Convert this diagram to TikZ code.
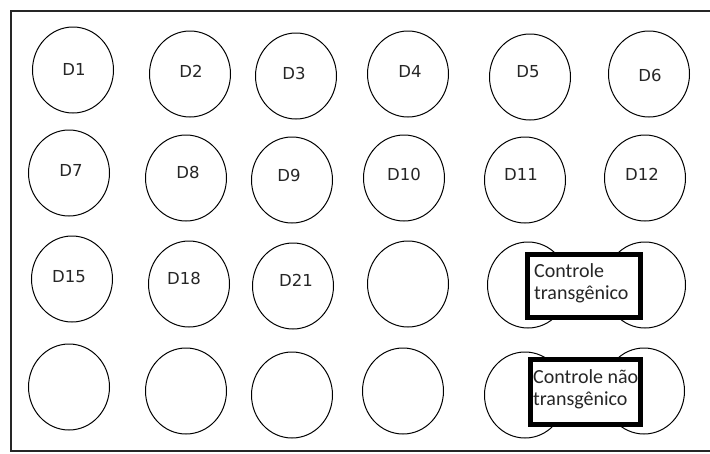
\documentclass[tikz,border=0pt]{standalone}
\usepackage{fontspec}
\setmainfont{DejaVu Sans}
\newfontfamily\boxfont{Carlito}
\usetikzlibrary{shapes.geometric}
\begin{document}
\begin{tikzpicture}[x=1pt,y=-1pt,
  well/.style={ellipse, draw=black, line width=1pt, minimum width=81pt, minimum height=86pt, inner sep=0pt},
  lab/.style={font=\fontsize{16.5}{18}\selectfont, text=black!85, inner sep=0pt},
  ctrlbox/.style={draw=black, line width=5pt, fill=white, inner sep=0pt},
  ctrltext/.style={font=\boxfont\fontsize{20}{22}\selectfont, text=black!85, align=left, inner sep=0pt, anchor=north west}]
\useasboundingbox (0,0) rectangle (710,453);
% frame
\draw[line width=2pt, black!85] (710,11) -- (11,11) -- (11,451) -- (710,451);
% row 1
\node[well] (w1) at (73,70) {};
\node[well] (w2) at (190,74) {};
\node[well] (w3) at (296,76) {};
\node[well] (w4) at (408,74) {};
\node[well] (w5) at (530,77) {};
\node[well] (w6) at (649,74) {};
% row 2
\node[well] (w7) at (69,173) {};
\node[well] (w8) at (186,178) {};
\node[well] (w9) at (292,180) {};
\node[well] (w10) at (404,178) {};
\node[well] (w11) at (525,180) {};
\node[well] (w12) at (645,178) {};
% row 3
\node[well] (w13) at (72,279) {};
\node[well] (w14) at (189,284) {};
\node[well] (w15) at (293,286) {};
\node[well] (w16) at (408,284) {};
\node[well] (w17) at (528,285) {};
\node[well] (w18) at (645,285) {};
% row 4
\node[well] (w19) at (69,387) {};
\node[well] (w20) at (186,391) {};
\node[well] (w21) at (292,395) {};
\node[well] (w22) at (403,391) {};
\node[well] (w23) at (525,395) {};
\node[well] (w24) at (644,391) {};
% labels
\node[lab] (l1) at (74,69) {D1};
\node[lab] (l2) at (191,71) {D2};
\node[lab] (l3) at (294,73) {D3};
\node[lab] (l4) at (410,71) {D4};
\node[lab] (l5) at (528,72) {D5};
\node[lab] (l6) at (650,75) {D6};
\node[lab] (l7) at (71,170) {D7};
\node[lab] (l8) at (188,172) {D8};
\node[lab] (l9) at (289,175) {D9};
\node[lab] (l10) at (404,174) {D10};
\node[lab] (l11) at (521,174) {D11};
\node[lab] (l12) at (642,174) {D12};
\node[lab] (l15) at (69,277) {D15};
\node[lab] (l18) at (184,278) {D18};
\node[lab] (l21) at (296,280) {D21};
% control boxes
\node[ctrlbox, minimum width=113pt, minimum height=63pt] (c1) at (584,286) {};
\node[ctrlbox, minimum width=110pt, minimum height=65pt] (c2) at (585.5,392) {};
\node[ctrltext] (t1) at (534,263) {Controle\\transgênico};
\node[ctrltext] (t2) at (533,369) {Controle não\\transgênico};
\end{tikzpicture}
\end{document}
